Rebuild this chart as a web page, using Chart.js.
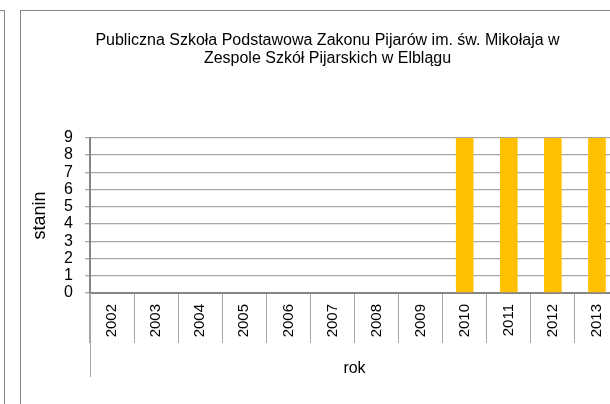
<!DOCTYPE html>
<html>
<head>
<meta charset="utf-8">
<script src="https://cdn.jsdelivr.net/npm/chart.js@4.4.0/dist/chart.umd.min.js"></script>
<style>
    html, body { margin: 0; padding: 0; background: #fff; overflow: hidden; }
    body { width: 610px; height: 404px; position: relative; }
    .side { position: absolute; left: -100px; top: 10px; width: 104px; height: 420px; border-top: 1px solid #868686; border-right: 1px solid #868686; }
    .box { position: absolute; left: 20px; top: 10px; width: 640px; height: 420px; border: 1px solid #868686; box-sizing: border-box; }
    .wrap { position: absolute; left: 20px; top: 10px; width: 615px; height: 394px; }
</style>
</head>
<body>
<div class="side"></div>
<div class="box"></div>
<div class="wrap"><canvas id="chart"></canvas></div>
<script>
const years = ["2002", "2003", "2004", "2005", "2006", "2007", "2008", "2009", "2010", "2011", "2012", "2013"];
const stanin = [null, null, null, null, null, null, null, null, 9, 9, 9, 9];
const titleLines = ["Publiczna Szkoła Podstawowa Zakonu Pijarów im. św. Mikołaja w", "Zespole Szkół Pijarskich w Elblągu"];

const font = "'Liberation Sans', Arial, sans-serif";

// the long line under the category labels on the left, like in Excel
const axisTail = {
    id: "axisTail",
    afterDraw: function(chart) {
        const ctx = chart.ctx;
        const area = chart.chartArea;
        ctx.save();
        ctx.strokeStyle = "#a6a6a6";
        ctx.lineWidth = 1;
        ctx.beginPath();
        ctx.moveTo(area.left + 0.5, area.bottom);
        ctx.lineTo(area.left + 0.5, area.bottom + 84);
        ctx.stroke();
        ctx.restore();
    }
};

new Chart(document.getElementById("chart"), {
    type: "bar",
    data: {
        labels: years,
        datasets: [{
            label: "stanin",
            data: stanin,
            backgroundColor: "#ffc000",
            barPercentage: 0.4,
            categoryPercentage: 1
        }]
    },
    options: {
        responsive: true,
        maintainAspectRatio: false,
        animation: false,
        layout: { padding: 0 },
        plugins: {
            legend: { display: false },
            tooltip: { enabled: false },
            title: {
                display: true,
                text: titleLines,
                color: "#000",
                font: { family: font, size: 16, weight: "normal", lineHeight: 1.15 },
                padding: { top: 21, bottom: 70 }
            }
        },
        scales: {
            x: {
                afterFit: function(scale) { scale.height = 111; },
                grid: {
                    offset: true,
                    drawOnChartArea: false,
                    tickLength: 50,
                    color: "#a6a6a6"
                },
                border: { color: "#868686", width: 2 },
                ticks: {
                    minRotation: 90,
                    maxRotation: 90,
                    padding: -39,
                    color: "#000",
                    font: { family: font, size: 15 }
                },
                title: {
                    display: true,
                    text: "rok",
                    color: "#000",
                    font: { family: font, size: 16 },
                    padding: { top: 26, bottom: 26 }
                }
            },
            y: {
                min: 0,
                max: 9,
                afterFit: function(scale) { scale.width = 70; },
                grid: { color: "#a6a6a6", tickLength: 5, lineWidth: 1.3 },
                border: { color: "#868686", width: 2 },
                ticks: {
                    stepSize: 1,
                    autoSkip: false,
                    padding: 12,
                    color: "#000",
                    font: { family: font, size: 16 }
                },
                title: {
                    display: true,
                    text: "stanin",
                    color: "#000",
                    font: { family: font, size: 18 },
                    padding: { top: 9, bottom: 0 }
                }
            },
            // empty strip on the right, only to keep the plot clear of the edge
            right: {
                position: "right",
                afterFit: function(scale) { scale.width = 16; },
                grid: { display: false },
                border: { display: false },
                ticks: { display: false }
            }
        }
    },
    plugins: [axisTail]
});
</script>
</body>
</html>
